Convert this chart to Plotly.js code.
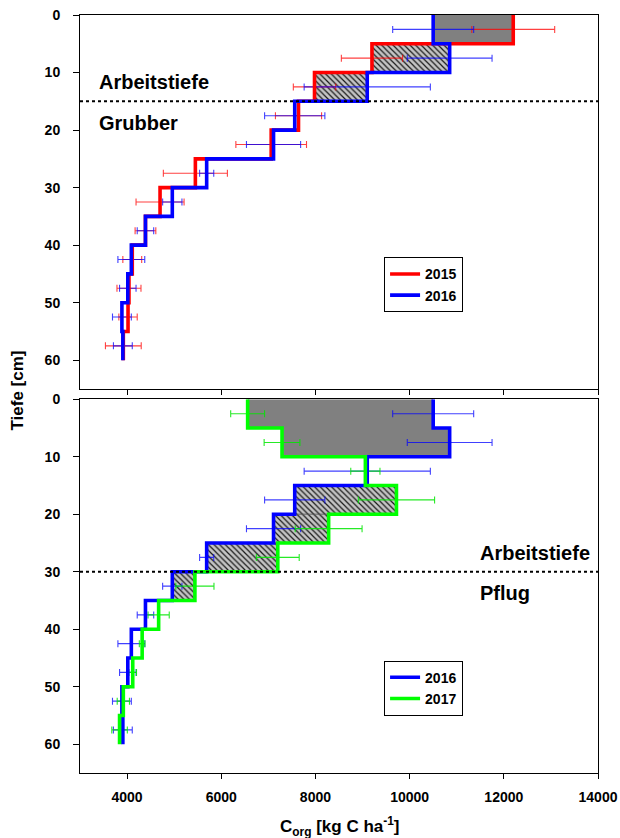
<!DOCTYPE html>
<html><head><meta charset="utf-8">
<script src="https://cdn.plot.ly/plotly-3.0.1.min.js"></script>
<style>html,body{margin:0;padding:0;background:#fff;}#chart{width:620px;height:838px;}</style>
</head><body><div id="chart"></div>
<script>
// ---- data ----
const layerTop    = [0, 5, 10, 15, 20, 25, 30, 35, 40, 45, 50, 55];
const layerBottom = [5, 10, 15, 20, 25, 30, 35, 40, 45, 50, 55, 60];
const corg2015 = [12200, 9200, 7980, 7640, 7060, 5450, 4700, 4390, 4110, 4040, 4020, 3920];
const err2015  = [880, 650, 450, 490, 750, 680, 510, 220, 200, 255, 195, 380];
const corg2016 = [10500, 10850, 9100, 7560, 7110, 5690, 4960, 4390, 4090, 4015, 3890, 3910];
const err2016  = [860, 900, 1340, 640, 575, 150, 205, 175, 285, 175, 200, 200];
const corg2017 = [6560, 7290, 9060, 9720, 8280, 7200, 5440, 4670, 4320, 4120, 3920, 3840];
const err2017  = [360, 380, 310, 810, 710, 455, 405, 225, 60, 80, 130, 165];
const workDepth = {top: 15, bottom: 30};        // Arbeitstiefe lines (cm)
const shadeDepth = {top: 15, bottom: 35};       // shaded difference down to (cm)
const labelsTop = ['Arbeitstiefe', 'Grubber'];
const labelsBottom = ['Arbeitstiefe', 'Pflug'];
const xTicks = [4000, 6000, 8000, 10000, 12000, 14000];
const yTicks = [0, 10, 20, 30, 40, 50, 60];

// ---- styles ----
const RED = '#ff0000', BLUE = '#0000ff', GREEN = '#00ff00';
const FONT = 'Liberation Sans, Arial, Helvetica, sans-serif';

function stepXY(vals) {
  const x = [], y = [];
  vals.forEach((v, i) => { x.push(v, v); y.push(layerTop[i], layerBottom[i]); });
  return {x, y};
}
function mids() { return layerTop.map((t, i) => (t + layerBottom[i]) / 2); }

function fills(older, newer, maxDepth, xa, ya) {
  const out = [];
  older.forEach((o, i) => {
    if (layerBottom[i] > maxDepth) return;
    const n = newer[i];
    const a = Math.min(o, n), b = Math.max(o, n);
    const tr = {
      type: 'scatter', mode: 'lines', xaxis: xa, yaxis: ya,
      x: [a, b, b, a, a], y: [layerTop[i], layerTop[i], layerBottom[i], layerBottom[i], layerTop[i]],
      fill: 'toself', line: {width: 0}, hoverinfo: 'skip', showlegend: false
    };
    if (o > n) {
      tr.fillcolor = '#808080';
    } else {
      tr.fillcolor = '#c4c4c4';
      tr.fillpattern = {shape: '\\', bgcolor: '#c4c4c4', fgcolor: '#1a1a1a', size: 4, solidity: 0.3};
      tr.line = {width: 0.6, color: '#444'};
    }
    out.push(tr);
  });
  return out;
}
function errTrace(vals, errs, color, xa, ya) {
  return {
    type: 'scatter', mode: 'markers', xaxis: xa, yaxis: ya,
    x: vals, y: mids(),
    marker: {size: 2, color: 'rgba(0,0,0,0)'},
    error_x: {type: 'data', array: errs, visible: true, color: color, thickness: 1.1, width: 3.5},
    hoverinfo: 'skip', showlegend: false
  };
}
function lineTrace(vals, name, color, xa, ya, legend) {
  const s = stepXY(vals);
  return {
    type: 'scatter', mode: 'lines', xaxis: xa, yaxis: ya, x: s.x, y: s.y,
    name: name, legend: legend,
    line: {color: color, width: 3.6}, hoverinfo: 'skip'
  };
}

const traces = [].concat(
  fills(corg2015, corg2016, shadeDepth.top, 'x', 'y'),
  fills(corg2016, corg2017, shadeDepth.bottom, 'x2', 'y2'),
  [
    errTrace(corg2015, err2015, 'rgba(255,0,0,0.75)', 'x', 'y'),
    errTrace(corg2016, err2016, 'rgba(0,0,255,0.75)', 'x', 'y'),
    errTrace(corg2016, err2016, 'rgba(0,0,255,0.75)', 'x2', 'y2'),
    errTrace(corg2017, err2017, 'rgba(0,230,0,0.85)', 'x2', 'y2'),
    lineTrace(corg2015, '2015', RED, 'x', 'y', 'legend'),
    lineTrace(corg2016, '2016', BLUE, 'x', 'y', 'legend'),
    lineTrace(corg2016, '2016', BLUE, 'x2', 'y2', 'legend2'),
    lineTrace(corg2017, '2017', GREEN, 'x2', 'y2', 'legend2')
  ]
);

const tickFont = {family: FONT, size: 14, color: '#000', weight: 'bold'};
function xAxis(anchor, labels) {
  return {
    anchor: anchor, domain: [0, 1], range: [3000, 14000],
    tickvals: xTicks, ticktext: xTicks.map(String), showticklabels: labels,
    ticks: 'outside', ticklen: 5, tickcolor: '#000', tickwidth: 1,
    showline: true, mirror: true, linecolor: '#000', linewidth: 1,
    showgrid: false, zeroline: false, tickfont: tickFont, ticklabelstandoff: 6
  };
}
function yAxis(anchor, domain) {
  return {
    anchor: anchor, domain: domain, range: [65, 0],
    tickvals: yTicks, ticktext: yTicks.map(String),
    ticks: 'outside', ticklen: 6, tickcolor: '#000', tickwidth: 1,
    showline: true, mirror: true, linecolor: '#000', linewidth: 1,
    showgrid: false, zeroline: false, tickfont: tickFont, ticklabelstandoff: 10
  };
}
const legendStyle = (y) => ({
  x: 0.587, y: y, xanchor: 'left', yanchor: 'top',
  bgcolor: '#fff', bordercolor: '#000', borderwidth: 1,
  font: {family: FONT, size: 14, color: '#000', weight: 'bold'},
  itemwidth: 30, tracegroupgap: 0
});
const annFont = {family: FONT, size: 20, color: '#000', weight: 'bold'};

const layout = {
  width: 620, height: 838,
  margin: {l: 80, r: 22, t: 15, b: 65},
  paper_bgcolor: '#fff', plot_bgcolor: '#fff',
  showlegend: true,
  xaxis: xAxis('y', false),
  yaxis: yAxis('x', [0.5066, 1]),
  xaxis2: xAxis('y2', true),
  yaxis2: yAxis('x2', [0, 0.493]),
  legend: legendStyle(0.6803),
  legend2: legendStyle(0.1482),
  shapes: [
    {type: 'line', xref: 'x domain', yref: 'y', x0: 0, x1: 1, y0: workDepth.top, y1: workDepth.top,
     line: {color: '#000', width: 2, dash: 'dot'}},
    {type: 'line', xref: 'x2 domain', yref: 'y2', x0: 0, x1: 1, y0: workDepth.bottom, y1: workDepth.bottom,
     line: {color: '#000', width: 2, dash: 'dot'}}
  ],
  annotations: [
    {xref: 'x domain', yref: 'y', x: 0.033, y: 11.7, xanchor: 'left', yanchor: 'middle', text: labelsTop[0], showarrow: false, font: annFont},
    {xref: 'x domain', yref: 'y', x: 0.033, y: 18.7, xanchor: 'left', yanchor: 'middle', text: labelsTop[1], showarrow: false, font: annFont},
    {xref: 'x2 domain', yref: 'y2', x: 0.768, y: 26.8, xanchor: 'left', yanchor: 'middle', text: labelsBottom[0], showarrow: false, font: annFont},
    {xref: 'x2 domain', yref: 'y2', x: 0.768, y: 33.7, xanchor: 'left', yanchor: 'middle', text: labelsBottom[1], showarrow: false, font: annFont},
    {xref: 'paper', yref: 'paper', x: -0.121, y: 0.505, xanchor: 'center', yanchor: 'middle', textangle: -90,
     text: 'Tiefe [cm]', showarrow: false, font: {family: FONT, size: 17, color: '#000', weight: 'bold'}},
    {xref: 'paper', yref: 'paper', x: 0.5, y: -0.07, xanchor: 'center', yanchor: 'middle',
     text: 'C<sub>org</sub> [kg C ha<sup>-1</sup>]', showarrow: false, font: {family: FONT, size: 17, color: '#000', weight: 'bold'}}
  ]
};

Plotly.newPlot('chart', traces, layout, {displayModeBar: false, staticPlot: true});
</script>
</body></html>
